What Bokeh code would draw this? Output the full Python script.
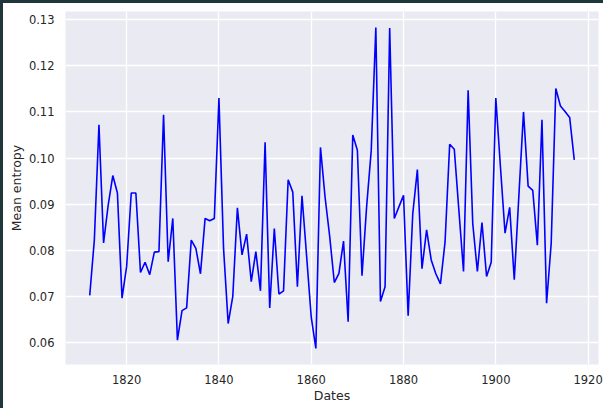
from bokeh.plotting import figure
from bokeh.models import Range1d, FixedTicker, NumeralTickFormatter, Div
from bokeh.layouts import column, row
from bokeh.embed import file_html
from bokeh.resources import INLINE

years = list(range(1812, 1918))
mean_entropy = [
    0.0702, 0.0822, 0.1072, 0.0816, 0.0898, 0.0962, 0.0924, 0.0696, 0.0765, 0.0924,
    0.0924, 0.0752, 0.0774, 0.0747, 0.0796, 0.0797, 0.1094, 0.0775, 0.0869, 0.0605,
    0.0669, 0.0675, 0.0822, 0.0804, 0.0749, 0.0869, 0.0864, 0.0869, 0.1130, 0.0804,
    0.0641, 0.0700, 0.0892, 0.0790, 0.0835, 0.0732, 0.0797, 0.0712, 0.1034, 0.0675,
    0.0847, 0.0705, 0.0712, 0.0953, 0.0926, 0.0721, 0.0918, 0.0787, 0.0655, 0.0587,
    0.1023, 0.0915, 0.0830, 0.0730, 0.0750, 0.0820, 0.0645, 0.1050, 0.1017, 0.0745,
    0.0894, 0.1016, 0.1283, 0.0689, 0.0721, 0.1282, 0.0869, 0.0894, 0.0919, 0.0658,
    0.0879, 0.0975, 0.0760, 0.0844, 0.0779, 0.0749, 0.0727, 0.0818, 0.1030, 0.1019,
    0.0886, 0.0754, 0.1147, 0.0858, 0.0754, 0.0860, 0.0743, 0.0774, 0.1130, 0.0981,
    0.0837, 0.0893, 0.0736, 0.0919, 0.1100, 0.0939, 0.0930, 0.0811, 0.1083, 0.0685,
    0.0815, 0.1151, 0.1113, 0.1101, 0.1088, 0.0996,
]
x_ticks = [1820, 1840, 1860, 1880, 1900, 1920]
y_ticks = [0.06, 0.07, 0.08, 0.09, 0.10, 0.11, 0.12, 0.13]

def padded(lo, hi, frac=0.05):
    d = (hi - lo) * frac
    return lo - d, hi + d

x0, x1 = padded(min(years), max(years))
y0, y1 = padded(min(mean_entropy), max(mean_entropy))

p = figure(
    frame_width=533, frame_height=353,
    output_backend="svg", toolbar_location=None,
    x_range=Range1d(x0, x1), y_range=Range1d(y0, y1),
    min_border_left=62, min_border_right=5, min_border_top=8, min_border_bottom=40,
    background_fill_color="#EAEAF2", border_fill_color="white",
)
p.outline_line_color = None

p.line(years, mean_entropy, line_color="#0000FF", line_width=1.6)

p.xaxis.ticker = FixedTicker(ticks=x_ticks)
p.yaxis.ticker = FixedTicker(ticks=y_ticks)
p.yaxis.formatter = NumeralTickFormatter(format="0.00")
p.xaxis.formatter = NumeralTickFormatter(format="0")

for ax in (p.xaxis[0], p.yaxis[0]):
    ax.axis_line_color = None
    ax.major_tick_line_color = None
    ax.minor_tick_line_color = None
    ax.major_tick_out = 0
    ax.major_tick_in = 0
    ax.major_label_text_font = "DejaVu Sans"
    ax.major_label_text_font_size = "11.5px"
    ax.major_label_text_color = "#262626"
    ax.axis_label_text_font = "DejaVu Sans"
    ax.axis_label_text_font_size = "12.5px"
    ax.axis_label_text_font_style = "normal"
    ax.axis_label_text_color = "#262626"

p.xaxis.axis_label = "Dates"
p.yaxis.axis_label = "Mean entropy"
p.xaxis.major_label_standoff = 10
p.yaxis.major_label_standoff = 11
p.xaxis.axis_label_standoff = 1
p.yaxis.axis_label_standoff = 2

p.grid.grid_line_color = "white"
p.grid.grid_line_width = 1.3

dark = "#1f373b"
top_bar = Div(text="", width=603, height=3, margin=0, styles={"background-color": dark})
left_bar = Div(text="", width=3, height=405, margin=0, styles={"background-color": dark})
page = column(top_bar, row(left_bar, p, spacing=0), spacing=0)

open("out.html", "w").write(file_html(page, INLINE))
